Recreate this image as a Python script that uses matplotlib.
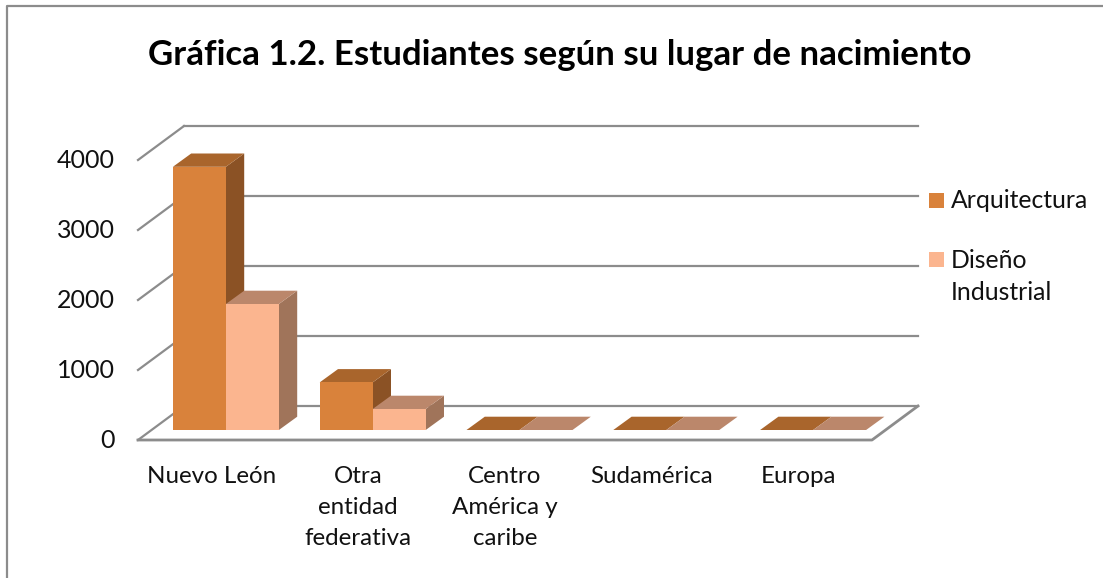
import matplotlib
matplotlib.use("Agg")
import matplotlib.pyplot as plt
from matplotlib.patches import Polygon, Rectangle
from matplotlib.transforms import Affine2D, IdentityTransform

W, H = 1103, 578
categories = ["Nuevo León", "Otra\nentidad\nfederativa", "Centro\nAmérica y\ncaribe", "Sudamérica", "Europa"]
arquitectura = [3760, 680, 0, 0, 0]
diseno = [1800, 300, 0, 0, 0]
yticks = [0, 1000, 2000, 3000, 4000]
series_names = ["Arquitectura", "Diseño\nIndustrial"]
title = "Gráfica 1.2. Estudiantes según su lugar de nacimiento"

plt.rcParams['font.family'] = ['Lato', 'DejaVu Sans']
fig = plt.figure(figsize=(W/100, H/100), dpi=100, facecolor="white")

L, R, B, T = 138, 872, 440, 160
ax = fig.add_axes([L/W, 1-B/H, (R-L)/W, (B-T)/H])
ax.set_xlim(-0.5, 4.5)
ax.set_ylim(0, 4000)
ax.axis("off")

GRID = "#8c8c8c"
DX, DY = 46, 34      # floor depth in px
PX = IdentityTransform()
back = ax.transData + Affine2D().translate(DX, DY)

# grid
for v in yticks:
    p0 = ax.transData.transform((-0.5, v))
    ax.plot([-0.5, 4.5], [v, v], color=GRID, lw=1.6, transform=back, clip_on=False, zorder=1)
    ax.add_line(plt.Line2D([p0[0], p0[0]+DX], [p0[1], p0[1]+DY], color=GRID, lw=1.6,
                           transform=PX, zorder=1, clip_on=False))
# floor
p0 = ax.transData.transform((-0.5, 0)); p1 = ax.transData.transform((4.5, 0))
ax.add_line(plt.Line2D([p0[0], p1[0], p1[0]+DX], [p0[1], p1[1], p1[1]+DY], color=GRID, lw=2,
                       transform=PX, zorder=1.5, clip_on=False))

# bars
BW = 53/((R-L)/5)
BX, BY = 14.5, 10
dx, dy = 18.3, 13.3
series = [(arquitectura, -BW/2, "#D9823B", "#8B5225", "#A9652C"),
          (diseno, BW/2, "#FBB58F", "#A0745A", "#BB876B")]
tr = ax.transData + Affine2D().translate(BX, BY)
z = 2
for i in range(len(categories)):
    for vals, shift, front, side, top in series:
        v = vals[i]
        x0, y0 = tr.transform((i+shift-BW/2, 0))
        x1, y1 = tr.transform((i+shift+BW/2, v))
        if v:
            ax.add_patch(Polygon([(x1, y0), (x1+dx, y0+dy), (x1+dx, y1+dy), (x1, y1)], closed=True,
                                 fc=side, ec="none", transform=PX, zorder=z, clip_on=False))
        ax.add_patch(Polygon([(x0, y1), (x0+dx, y1+dy), (x1+dx, y1+dy), (x1, y1)], closed=True,
                             fc=top, ec="none", transform=PX, zorder=z, clip_on=False))
        if v:
            ax.bar(i+shift, v, BW, color=front, transform=tr, zorder=z, clip_on=False)
        z += 0.01

# tick labels
FS = 17.4
TXT = "#111111"
for v in yticks:
    x, y = ax.transData.transform((-0.5, v))
    fig.text(115/W, (y-1)/H, str(v), ha="right", va="center", fontsize=18, color=TXT)
for i, c in enumerate(categories):
    x, _ = ax.transData.transform((i, 0))
    fig.text(x/W, 1-466/H, c, ha="center", va="top", fontsize=FS, color=TXT, linespacing=1.6)

# legend
fig.add_artist(Rectangle((929/W, 1-208/H), 15/W, 15/H, fc="#D9823B", ec="none", transform=fig.transFigure))
fig.add_artist(Rectangle((929/W, 1-267/H), 15/W, 15/H, fc="#FBB58F", ec="none", transform=fig.transFigure))
fig.text(951/W, 1-201/H, series_names[0], ha="left", va="center", fontsize=17.8, color=TXT)
fig.text(951/W, 1-249/H, series_names[1], ha="left", va="top", fontsize=17.8, color=TXT, linespacing=1.47)

fig.text(560/W, 1-55/H, title, ha="center", va="center", fontsize=25.1, fontweight="bold", color="#000000")

# outer frame (left and top edges only are visible)
fig.add_artist(plt.Line2D([7/W, 7/W, 1/1], [0, 1-6/H, 1-6/H], color=GRID, lw=1.6,
                          transform=fig.transFigure))
fig.savefig("out.png", dpi=100)
